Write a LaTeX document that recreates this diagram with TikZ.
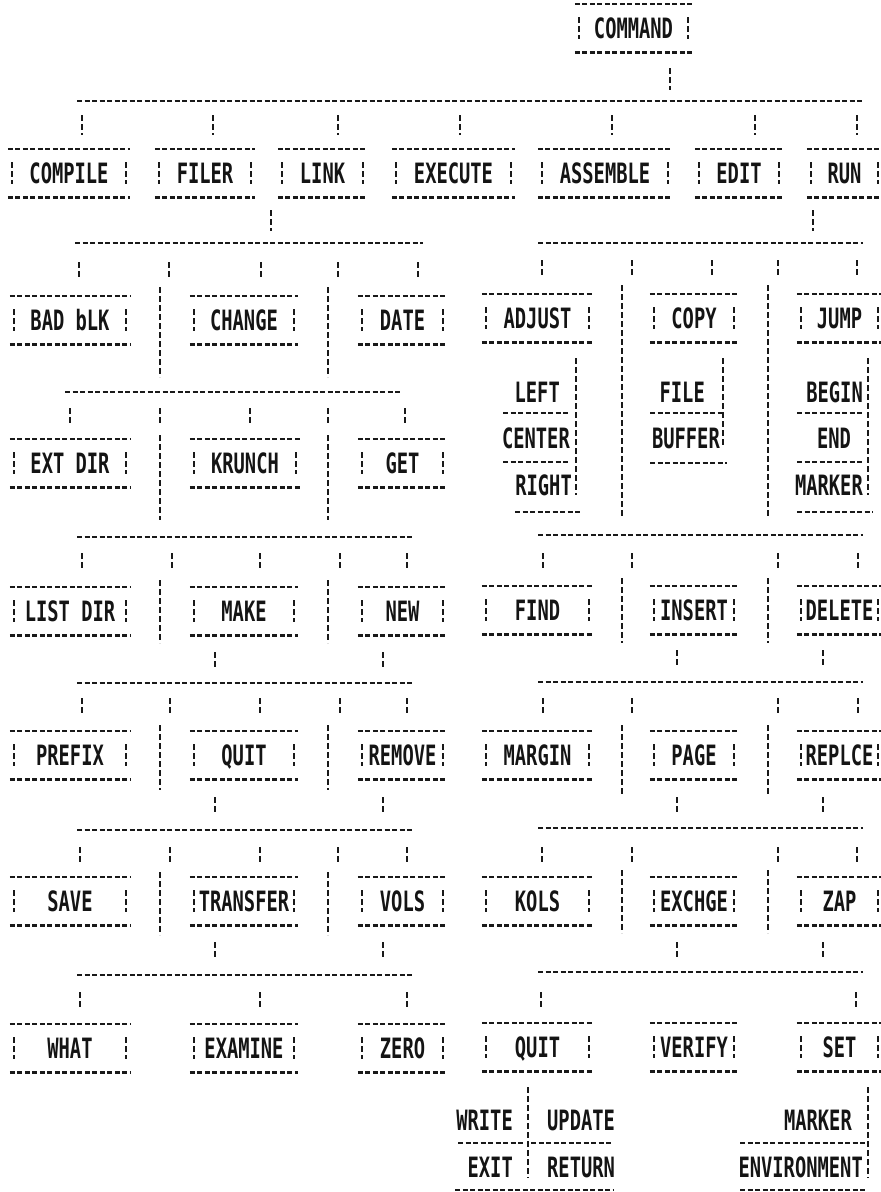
\documentclass[tikz,border=0pt]{standalone}
\usepackage{fontspec}
\usepackage{tikz}
\newfontfamily\dotfont{DejaVu Sans Mono}[FakeStretch=0.67]

\tikzset{
  hdash/.style={draw=black!90, line width=2.6pt, dash pattern=on 5pt off 2.5pt},
  vdash/.style={draw=black!90, line width=2.3pt, dash pattern=on 6pt off 3pt},
  word/.style={inner sep=0pt, minimum height=48pt, text height=20pt, text depth=0pt,
    text=black!92, font=\dotfont\bfseries\fontsize{28}{30}\selectfont},
  subword/.style={inner sep=0pt, text height=20pt, text depth=0pt,
    text=black!92, font=\dotfont\bfseries\fontsize{28}{30}\selectfont}
}

% name, left, right, text line, label
\newcommand{\cmdbox}[5]{%
  \node[word, minimum width=#3pt-#2pt] (#1) at ({(#2+#3)/2},#4) {#5};
  \draw[hdash] (#1.north west) -- (#1.north east);
  \draw[hdash] (#1.south west) -- (#1.south east);
  \draw[vdash] ([xshift=4pt,yshift=11pt]#1.west) -- ([xshift=4pt,yshift=-11pt]#1.west);
  \draw[vdash] ([xshift=-4pt,yshift=11pt]#1.east) -- ([xshift=-4pt,yshift=-11pt]#1.east);
}

\begin{document}
\begin{tikzpicture}[x=1pt, y=-1pt]
    \useasboundingbox (0,0) rectangle (881,1192);

    % top level
    \cmdbox{command}{575}{692}{28}{COMMAND}
    \draw[vdash] (670,68) -- (670,90);
    \draw[hdash] (77,101) -- (863,101);
    \foreach \x in {82,213,338,460,612,755,857}
        \draw[vdash] (\x,115) -- (\x,135);
    \cmdbox{compile}{8}{130}{173}{COMPILE}
    \cmdbox{filer}{155}{255}{173}{FILER}
    \cmdbox{link}{278}{367}{173}{LINK}
    \cmdbox{execute}{392}{515}{173}{EXECUTE}
    \cmdbox{assemble}{538}{672}{173}{ASSEMBLE}
    \cmdbox{edit}{695}{783}{173}{EDIT}
    \cmdbox{run}{807}{882}{173}{RUN}

    % filer commands
    \draw[vdash] (271,210) -- (271,231);
    \draw[hdash] (75,243) -- (423,243);
    \foreach \x in {79,169,261,338,418}
        \draw[vdash] (\x,262) -- (\x,277);
    \cmdbox{badblk}{10}{130}{320}{BAD bLK}
    \cmdbox{change}{190}{298}{320}{CHANGE}
    \cmdbox{date}{358}{447}{320}{DATE}
    \draw[hdash] (65,392) -- (402,392);
    \foreach \x in {70,160,250,328,405}
        \draw[vdash] (\x,408) -- (\x,423);
    \cmdbox{extdir}{10}{130}{463}{EXT DIR}
    \cmdbox{krunch}{190}{300}{463}{KRUNCH}
    \cmdbox{get}{358}{447}{463}{GET}
    \draw[hdash] (77,537) -- (413,537);
    \foreach \x in {82,172,260,340,407}
        \draw[vdash] (\x,553) -- (\x,570);
    \cmdbox{listdir}{10}{130}{611}{LIST DIR}
    \cmdbox{make}{190}{298}{611}{MAKE}
    \cmdbox{new}{358}{447}{611}{NEW}
    \draw[hdash] (77,683) -- (412,683);
    \foreach \x in {82,170,260,340,407}
        \draw[vdash] (\x,698) -- (\x,715);
    \cmdbox{prefix}{10}{130}{755}{PREFIX}
    \cmdbox{fquit}{190}{298}{755}{QUIT}
    \cmdbox{remove}{358}{447}{755}{REMOVE}
    \draw[hdash] (77,830) -- (413,830);
    \foreach \x in {80,170,260,338,407}
        \draw[vdash] (\x,847) -- (\x,862);
    \cmdbox{save}{10}{130}{901}{SAVE}
    \cmdbox{transfer}{190}{298}{901}{TRANSFER}
    \cmdbox{vols}{358}{447}{901}{VOLS}
    \draw[hdash] (77,975) -- (413,975);
    \foreach \x in {80,260,407}
        \draw[vdash] (\x,992) -- (\x,1007);
    \cmdbox{what}{10}{130}{1048}{WHAT}
    \cmdbox{examine}{190}{298}{1048}{EXAMINE}
    \cmdbox{zero}{358}{447}{1048}{ZERO}
    \foreach \x in {160,328} {
        \draw[vdash] (\x,287) -- (\x,377);
        \draw[vdash] (\x,435) -- (\x,520);
        \draw[vdash] (\x,580) -- (\x,643);
        \draw[vdash] (\x,725) -- (\x,790);
        \draw[vdash] (\x,872) -- (\x,935);
    }
    \foreach \y in {652,797,942}
        \foreach \x in {215,383}
            \draw[vdash] (\x,\y) -- (\x,\y+16);

    % editor commands
    \draw[vdash] (813,210) -- (813,231);
    \draw[hdash] (538,243) -- (863,243);
    \foreach \x in {542,632,712,778,857}
        \draw[vdash] (\x,260) -- (\x,277);
    \cmdbox{adjust}{482}{593}{318}{ADJUST}
    \cmdbox{copy}{650}{738}{318}{COPY}
    \cmdbox{jump}{797}{882}{318}{JUMP}
    \node[subword, anchor=east] (left) at (560,392) {LEFT};
    \node[subword, anchor=east] (center) at (570,438) {CENTER};
    \node[subword, anchor=east] (right) at (572,485) {RIGHT};
    \draw[hdash] (503,413) -- (570,413);
    \draw[hdash] (503,462) -- (570,462);
    \draw[hdash] (515,512) -- (580,512);
    \draw[vdash] (576,358) -- (576,495);
    \node[subword, anchor=east] (file) at (705,392) {FILE};
    \node[subword, anchor=east] (buffer) at (720,438) {BUFFER};
    \draw[hdash] (650,413) -- (723,413);
    \draw[hdash] (650,463) -- (727,463);
    \draw[vdash] (723,358) -- (723,447);
    \node[subword, anchor=east] (begin) at (863,392) {BEGIN};
    \node[subword] (end) at (834,438) {END};
    \node[subword, anchor=east] (jmarker) at (863,485) {MARKER};
    \draw[hdash] (797,413) -- (863,413);
    \draw[hdash] (797,462) -- (863,462);
    \draw[hdash] (797,512) -- (873,512);
    \draw[vdash] (868,358) -- (868,495);
    \draw[hdash] (538,535) -- (863,535);
    \foreach \x in {543,632,778,858}
        \draw[vdash] (\x,553) -- (\x,568);
    \cmdbox{find}{482}{593}{610}{FIND}
    \cmdbox{insert}{650}{738}{610}{INSERT}
    \cmdbox{delete}{797}{882}{610}{DELETE}
    \draw[hdash] (538,682) -- (863,682);
    \foreach \x in {543,632,778,858}
        \draw[vdash] (\x,698) -- (\x,713);
    \cmdbox{margin}{482}{593}{755}{MARGIN}
    \cmdbox{page}{650}{738}{755}{PAGE}
    \cmdbox{replce}{797}{882}{755}{REPLCE}
    \draw[hdash] (538,828) -- (863,828);
    \foreach \x in {542,632,778,857}
        \draw[vdash] (\x,847) -- (\x,862);
    \cmdbox{kols}{482}{593}{901}{KOLS}
    \cmdbox{exchge}{650}{738}{901}{EXCHGE}
    \cmdbox{zap}{797}{882}{901}{ZAP}
    \draw[hdash] (538,972) -- (863,972);
    \foreach \x in {541,856}
        \draw[vdash] (\x,992) -- (\x,1007);
    \cmdbox{equit}{482}{593}{1047}{QUIT}
    \cmdbox{verify}{650}{738}{1047}{VERIFY}
    \cmdbox{set}{797}{882}{1047}{SET}
    \foreach \x in {622,768} {
        \draw[vdash] (\x,285) -- (\x,518);
        \draw[vdash] (\x,578) -- (\x,643);
        \draw[vdash] (\x,725) -- (\x,795);
        \draw[vdash] (\x,870) -- (\x,933);
    }
    \foreach \y in {650,797,942}
        \foreach \x in {677,823}
            \draw[vdash] (\x,\y) -- (\x,\y+16);

    % quit and set options
    \node[subword, anchor=east] (write) at (513,1120) {WRITE};
    \node[subword, anchor=west] (update) at (547,1120) {UPDATE};
    \node[subword, anchor=east] (exit) at (513,1167) {EXIT};
    \node[subword, anchor=west] (return) at (547,1167) {RETURN};
    \draw[hdash] (458,1143) -- (525,1143);
    \draw[hdash] (531,1143) -- (613,1143);
    \draw[hdash] (455,1190) -- (613,1190);
    \draw[vdash] (528,1087) -- (528,1178);
    \node[subword, anchor=east] (smarker) at (852,1120) {MARKER};
    \node[subword, anchor=east] (environment) at (863,1167) {ENVIRONMENT};
    \draw[hdash] (740,1143) -- (865,1143);
    \draw[hdash] (740,1190) -- (866,1190);
    \draw[vdash] (868,1087) -- (868,1178);
\end{tikzpicture}
\end{document}
